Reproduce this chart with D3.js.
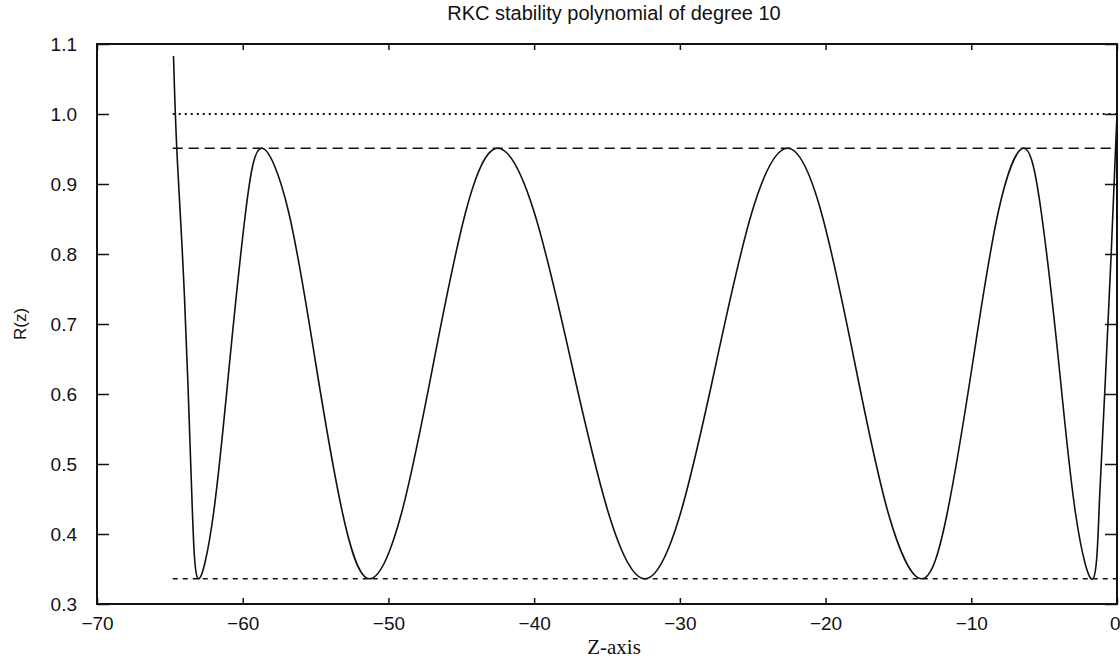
<!DOCTYPE html>
<html>
<head>
<meta charset="utf-8">
<script src="https://cdn.jsdelivr.net/npm/d3@7"></script>
<style>
  body { margin: 0; background: #fff; }
</style>
</head>
<body>
<div class="chart-section"></div>
<script>
// Curve: z values and R(z) values
var zValues = [-64.75, -64.5, -64.0, -63.5, -63.05,
  -62.0, -60.9, -59.8, -58.7,
  -56.85, -55.0, -53.15, -51.3,
  -49.1, -46.9, -44.7, -42.5,
  -40.0, -37.45, -34.9, -32.4,
  -29.95, -27.5, -25.05, -22.6,
  -20.3, -18.0, -15.7, -13.4,
  -11.65, -9.9, -8.15, -6.4,
  -5.2, -4.0, -2.85, -1.65,
  -1.2, -0.8, -0.4, 0];
var rValues = [1.083, 0.94, 0.74, 0.46, 0.336,
  0.43, 0.645, 0.86, 0.951,
  0.86, 0.645, 0.43, 0.336,
  0.43, 0.645, 0.86, 0.951,
  0.86, 0.645, 0.43, 0.336,
  0.43, 0.645, 0.86, 0.951,
  0.86, 0.645, 0.43, 0.336,
  0.43, 0.645, 0.86, 0.951,
  0.86, 0.645, 0.43, 0.336,
  0.45, 0.62, 0.8, 1.0];

// reference levels drawn across the plot
var levelValues = [1.0, 0.951, 0.336];
var levelDash = ["2,4", "10,6", "5,5"];
var levelStart = -64.8;

var xTicks = [-70, -60, -50, -40, -30, -20, -10, 0];
var yTicks = [0.3, 0.4, 0.5, 0.6, 0.7, 0.8, 0.9, 1.0, 1.1];

var width = 1120, height = 658;
// note: "top" is taken by window.top, so plot edges get their own names
var plotLeft = 97, plotRight = 1117, plotTop = 44, plotBottom = 604;

var svg = d3.select(".chart-section")
    .append("svg")
    .attr("width", width)
    .attr("height", height);

var x = d3.scaleLinear().domain([-70, 0]).range([plotLeft, plotRight]);
var y = d3.scaleLinear().domain([0.3, 1.1]).range([plotBottom, plotTop]);

var minus = function(d) { return d < 0 ? "\u2212" + Math.abs(d) : "" + d; };

// axes: ticks point inward, labels only on left and bottom
var xAxis = svg.append("g")
    .attr("transform", "translate(0," + plotBottom + ")")
    .call(d3.axisBottom(x).tickValues(xTicks).tickSizeInner(-6).tickSizeOuter(0).tickPadding(13).tickFormat(minus))
    .call(function(g) { g.select(".domain").remove(); });

// last label sits at the window edge, keep it inside
xAxis.selectAll(".tick text")
    .filter(function(d) { return d == 0; })
    .attr("text-anchor", "end")
    .attr("dx", 3);

svg.append("g")
    .attr("transform", "translate(0," + plotTop + ")")
    .call(d3.axisTop(x).tickValues(xTicks).tickSizeInner(-6).tickSizeOuter(0).tickFormat(""))
    .call(function(g) { g.select(".domain").remove(); });

svg.append("g")
    .attr("transform", "translate(" + plotLeft + ",0)")
    .call(d3.axisLeft(y).tickValues(yTicks).tickSizeInner(-12).tickSizeOuter(0).tickPadding(20).tickFormat(d3.format(".1f")))
    .call(function(g) { g.select(".domain").remove(); });

svg.append("g")
    .attr("transform", "translate(" + plotRight + ",0)")
    .call(d3.axisRight(y).tickValues(yTicks).tickSizeInner(-12).tickSizeOuter(0).tickFormat(""))
    .call(function(g) { g.select(".domain").remove(); });

svg.selectAll(".tick line")
    .attr("stroke", "#111")
    .attr("stroke-width", 1.5);

svg.selectAll(".tick text")
    .attr("font-family", "Liberation Sans, Arial, sans-serif")
    .attr("font-size", 19)
    .attr("fill", "#111");

// frame
svg.append("rect")
    .attr("x", plotLeft)
    .attr("y", plotTop)
    .attr("width", plotRight - plotLeft)
    .attr("height", plotBottom - plotTop)
    .attr("fill", "none")
    .attr("stroke", "#111")
    .attr("stroke-width", 2);

// horizontal levels
svg.selectAll(".level")
    .data(levelValues)
    .enter()
    .append("line")
    .attr("class", "level")
    .attr("x1", x(levelStart))
    .attr("x2", x(0))
    .attr("y1", function(d) { return y(d); })
    .attr("y2", function(d) { return y(d); })
    .attr("stroke", "#111")
    .attr("stroke-width", function(d, i) { return i == 0 ? 1.8 : 1.4; })
    .attr("stroke-dasharray", function(d, i) { return levelDash[i]; });

// the polynomial curve
var points = zValues.map(function(z, i) { return [z, rValues[i]]; });

var line = d3.line()
    .x(function(d) { return x(d[0]); })
    .y(function(d) { return y(d[1]); })
    .curve(d3.curveNatural);

svg.append("path")
    .datum(points)
    .attr("d", line)
    .attr("fill", "none")
    .attr("stroke", "#111")
    .attr("stroke-width", 1.6);

// labels
svg.append("text")
    .attr("x", 614)
    .attr("y", 20)
    .attr("text-anchor", "middle")
    .attr("font-family", "Liberation Sans, Arial, sans-serif")
    .attr("font-size", 20)
    .attr("fill", "#111")
    .text("RKC stability polynomial of degree 10");

svg.append("text")
    .attr("x", 614)
    .attr("y", 654)
    .attr("text-anchor", "middle")
    .attr("font-family", "Liberation Serif, Times New Roman, serif")
    .attr("font-size", 21)
    .attr("fill", "#111")
    .text("Z-axis");

svg.append("text")
    .attr("transform", "translate(26,324) rotate(-90)")
    .attr("text-anchor", "middle")
    .attr("font-family", "Liberation Sans, Arial, sans-serif")
    .attr("font-size", 17)
    .attr("fill", "#111")
    .text("R(z)");
</script>
</body>
</html>
